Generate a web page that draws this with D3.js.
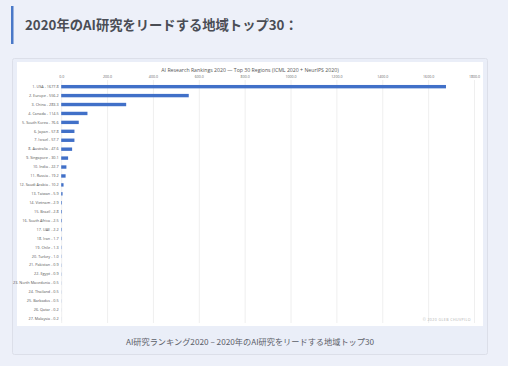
<!DOCTYPE html>
<html>
<head>
<meta charset="utf-8">
<script src="https://cdn.jsdelivr.net/npm/d3@7"></script>
<style>
  body { margin: 0; background: #edf0f9; }
  svg { display: block; }
</style>
</head>
<body>
<script>
//chart data
var regions = ["USA", "Europe", "China", "Canada", "South Korea", "Japan", "Israel", "Australia",
    "Singapore", "India", "Russia", "Saudi Arabia", "Taiwan", "Vietnam", "Brazil", "South Africa",
    "UAE", "Iran", "Chile", "Turkey", "Pakistan", "Egypt", "North Macedonia", "Thailand",
    "Barbados", "Qatar", "Malaysia"];
var scores = [1677.8, 556.2, 283.3, 114.5, 76.6, 57.8, 57.7, 47.6,
    30.1, 22.7, 19.2, 10.2, 5.9, 2.9, 2.8, 2.5,
    2.2, 1.7, 1.3, 1.0, 0.9, 0.9, 0.5, 0.5,
    0.5, 0.2, 0.2];
var tickValues = [0, 200, 400, 600, 800, 1000, 1200, 1400, 1600, 1800];

(function (){

    var width = 508, height = 366;

    var svg = d3.select("body")
        .append("svg")
        .attr("width", width)
        .attr("height", height);

    //page background
    svg.append("rect")
        .attr("width", width)
        .attr("height", height)
        .attr("fill", "#edf0f9");

    //heading with blue left rule
    svg.append("rect")
        .attr("x", 11)
        .attr("y", 6)
        .attr("width", 2.5)
        .attr("height", 38)
        .attr("fill", "#4a78c8");

    svg.append("text")
        .attr("x", 25)
        .attr("y", 30)
        .attr("font-family", "'Noto Sans CJK JP', Roboto, sans-serif")
        .attr("font-weight", "bold")
        .attr("font-size", 13.3)
        .attr("fill", "#4a4d55")
        .text("2020年のAI研究をリードする地域トップ30：");

    //figure box
    svg.append("rect")
        .attr("x", 12.5)
        .attr("y", 58.5)
        .attr("width", 475)
        .attr("height", 296)
        .attr("rx", 2)
        .attr("fill", "#eaeef8")
        .attr("stroke", "#dcdfe9");

    //white chart panel
    svg.append("rect")
        .attr("x", 17)
        .attr("y", 62)
        .attr("width", 466)
        .attr("height", 264)
        .attr("fill", "#ffffff");

    svg.append("text")
        .attr("x", 250)
        .attr("y", 345)
        .attr("text-anchor", "middle")
        .attr("font-family", "'Noto Sans CJK JP', Roboto, sans-serif")
        .attr("font-size", 8.2)
        .attr("fill", "#5c6069")
        .text("AI研究ランキング2020 – 2020年のAI研究をリードする地域トップ30");

    //scales
    var x = d3.scaleLinear()
        .domain([0, 1800])
        .range([61.2, 474]);

    var y = d3.scaleBand()
        .domain(regions.map(function(d, i){ return (i + 1) + ". " + d + " - " + scores[i].toFixed(1); }))
        .range([82.2, 323.3])
        .paddingInner(0.62)
        .paddingOuter(0.31);

    var chart = svg.append("g")
        .attr("font-family", "'Open Sans', 'Liberation Sans', sans-serif");

    //chart title
    chart.append("text")
        .attr("x", 250)
        .attr("y", 71.5)
        .attr("text-anchor", "middle")
        .attr("font-size", 5.2)
        .attr("fill", "#555")
        .text("AI Research Rankings 2020 — Top 30 Regions (ICML 2020 + NeurIPS 2020)");

    //vertical gridlines with top tick labels
    var xAxis = d3.axisTop(x)
        .tickValues(tickValues)
        .tickSize(-(323 - 80))
        .tickPadding(2.5)
        .tickFormat(d3.format(".1f"));

    var gx = chart.append("g")
        .attr("transform", "translate(0,80)")
        .call(xAxis);
    gx.select(".domain").remove();
    gx.selectAll(".tick line")
        .attr("stroke", "#e4e4e4")
        .attr("stroke-width", 0.6);
    gx.selectAll(".tick text")
        .attr("font-size", 3.6)
        .attr("fill", "#666")
        .attr("font-family", "'Open Sans', 'Liberation Sans', sans-serif");

    //bars
    chart.selectAll(".bar")
        .data(scores)
        .enter()
        .append("rect")
        .attr("class", "bar")
        .attr("x", x(0))
        .attr("y", function(d, i){ return y(y.domain()[i]); })
        .attr("width", function(d){ return x(d) - x(0); })
        .attr("height", y.bandwidth())
        .attr("fill", "#4170c8");

    //row labels
    var yAxis = d3.axisLeft(y)
        .tickSize(0)
        .tickPadding(2.5);

    var gy = chart.append("g")
        .attr("transform", "translate(" + x(0) + ",0)")
        .call(yAxis);
    gy.select(".domain").remove();
    gy.selectAll(".tick text")
        .attr("font-size", 3.8)
        .attr("fill", "#555")
        .attr("font-family", "'Open Sans', 'Liberation Sans', sans-serif");

    //watermark
    chart.append("text")
        .attr("x", 471)
        .attr("y", 321)
        .attr("text-anchor", "end")
        .attr("font-size", 3.6)
        .attr("letter-spacing", 0.4)
        .attr("fill", "#b0b0b0")
        .text("© 2020 GLEB CHUVPILO");

})();
</script>
</body>
</html>
